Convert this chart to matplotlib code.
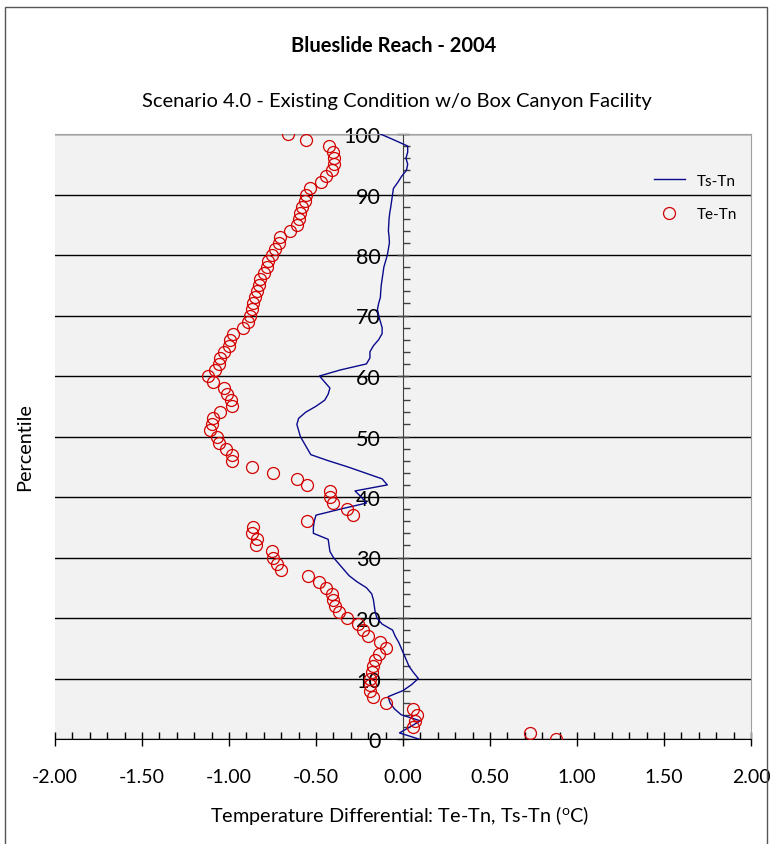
import matplotlib
matplotlib.use("Agg")
import matplotlib.pyplot as plt
from matplotlib.patches import Rectangle
from matplotlib.ticker import MultipleLocator, FormatStrFormatter
import numpy as np

plt.rcParams['font.family'] = ['Lato', 'DejaVu Sans']

# percentile 0..100, one value per percentile
ts_tn = [0.09, -0.02, 0.04, 0.10, -0.01, -0.05, -0.075, -0.085, 0.00, 0.05,
         0.088, 0.06, 0.035, 0.02, 0.005, -0.01, -0.025, -0.045, -0.06, -0.12,
         -0.15, -0.16, -0.165, -0.17, -0.18, -0.21, -0.265, -0.31, -0.34, -0.37,
         -0.40, -0.42, -0.425, -0.43, -0.515, -0.515, -0.51, -0.50, -0.36, -0.21,
         -0.24, -0.276, -0.09, -0.12, -0.22, -0.32, -0.43, -0.53, -0.55, -0.57,
         -0.59, -0.60, -0.61, -0.60, -0.56, -0.50, -0.45, -0.43, -0.42, -0.45,
         -0.48, -0.36, -0.21, -0.19, -0.19, -0.17, -0.14, -0.12, -0.12, -0.13,
         -0.14, -0.147, -0.14, -0.13, -0.128, -0.125, -0.12, -0.115, -0.11, -0.10,
         -0.09, -0.084, -0.078, -0.08, -0.084, -0.082, -0.08, -0.076, -0.07, -0.065,
         -0.06, -0.055, -0.03, -0.008, 0.02, 0.027, 0.017, 0.027, 0.027, -0.05,
         -0.13]

te_tn = [0.88, 0.73, 0.06, 0.07, 0.08, 0.06, -0.10, -0.17, -0.19, -0.19,
         -0.19, -0.18, -0.17, -0.16, -0.14, -0.10, -0.13, -0.20, -0.23, -0.26,
         -0.32, -0.37, -0.39, -0.40, -0.41, -0.44, -0.48, -0.545, -0.70, -0.725,
         -0.745, -0.755, -0.845, -0.84, -0.87, -0.86, -0.55, -0.29, -0.32, -0.40,
         -0.42, -0.42, -0.55, -0.61, -0.75, -0.87, -0.985, -0.985, -1.02, -1.06,
         -1.07, -1.11, -1.10, -1.09, -1.05, -0.98, -0.99, -1.01, -1.03, -1.09,
         -1.12, -1.08, -1.06, -1.05, -1.03, -1.00, -0.995, -0.975, -0.92, -0.89,
         -0.88, -0.87, -0.86, -0.85, -0.84, -0.83, -0.82, -0.80, -0.78, -0.775,
         -0.755, -0.735, -0.71, -0.705, -0.65, -0.61, -0.60, -0.59, -0.58, -0.565,
         -0.555, -0.535, -0.47, -0.44, -0.41, -0.395, -0.395, -0.40, -0.425, -0.555,
         -0.66]

pct = np.arange(len(ts_tn))

fig = plt.figure(figsize=(7.72, 8.45), dpi=100)
ax = fig.add_axes([55/772, 1 - 740/845, 696/772, 605/845])
ax.set_facecolor('#f2f2f2')

ax.plot(ts_tn, pct, color='#0a0a8c', lw=1.0, label='Ts-Tn', zorder=3)
ax.plot(te_tn, pct, 'o', mfc='none', mec='#d40000', mew=0.9, ms=8.6,
        label='Te-Tn', zorder=4)

ax.set_xlim(-2, 2)
ax.set_ylim(0, 100)

# horizontal gridlines
ax.yaxis.grid(True, color='black', lw=1.0)
ax.set_axisbelow(True)

# y axis sits at x = 0
ax.spines['left'].set_position(('data', 0))
ax.spines['left'].set_color('#404040')
ax.spines['bottom'].set_color('black')
for s in ('top', 'right'):
    ax.spines[s].set_color('#a0a0a0')
    ax.spines[s].set_linewidth(0.8)

ax.yaxis.set_major_locator(MultipleLocator(10))
ax.yaxis.set_minor_locator(MultipleLocator(2))
ax.xaxis.set_major_locator(MultipleLocator(0.5))
ax.xaxis.set_minor_locator(MultipleLocator(0.1))
ax.xaxis.set_major_formatter(FormatStrFormatter('%.2f'))

ax.tick_params(axis='y', which='major', direction='inout', length=8, width=1,
               color='#404040', labelsize=15.5, pad=12)
ax.tick_params(axis='y', which='minor', direction='in', length=5, width=1,
               color='#404040')
ax.tick_params(axis='x', which='major', direction='inout', length=10, width=1,
               labelsize=14, pad=16)
ax.tick_params(axis='x', which='minor', direction='in', length=5, width=1)

leg = ax.legend(loc='upper right', bbox_to_anchor=(1.0, 0.957), frameon=False,
                fontsize=11, handlelength=2.0, labelspacing=1.26)

fig.text(394/772, 1 - 46/845, 'Blueslide Reach - 2004', ha='center',
         va='center', fontsize=14.5, fontweight='bold')
fig.text(397/772, 1 - 101/845,
         'Scenario 4.0 - Existing Condition w/o Box Canyon Facility',
         ha='center', va='center', fontsize=14.5)
fig.text(400/772, 1 - 816/845,
         'Temperature Differential: Te-Tn, Ts-Tn ($\\mathregular{^o}$C)',
         ha='center', va='center', fontsize=14.3)
fig.text(25/772, 1 - 447/845, 'Percentile', rotation=90, ha='center',
         va='center', fontsize=14.3)

# outer chart border
fig.patches.append(Rectangle((5/772, -0.01), 762/772, 1.01 - 8/845,
                             transform=fig.transFigure, fill=False,
                             edgecolor='#555555', lw=1.0))

fig.savefig('out.png', dpi=100)
